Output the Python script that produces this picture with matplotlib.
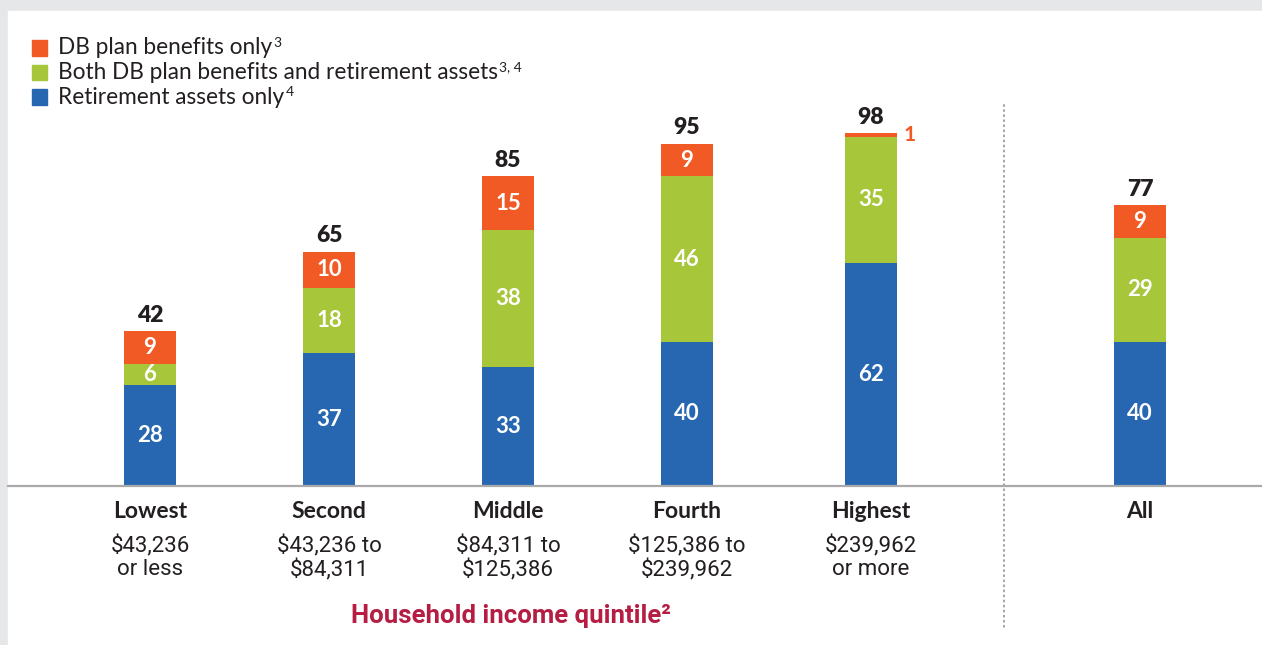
import matplotlib.pyplot as plt
from matplotlib.patches import Rectangle

categories = ["Lowest", "Second", "Middle", "Fourth", "Highest", "All"]
ranges = ["$43,236\nor less", "$43,236 to\n$84,311", "$84,311 to\n$125,386",
          "$125,386 to\n$239,962", "$239,962\nor more", ""]
retirement_only = [28, 37, 33, 40, 62, 40]
both = [6, 18, 38, 46, 35, 29]
db_only = [9, 10, 15, 9, 1, 9]
totals = [42, 65, 85, 95, 98, 77]

legend_labels = ["DB plan benefits only",
                 "Both DB plan benefits and retirement assets",
                 "Retirement assets only"]
legend_notes = ["3", "3, 4", "4"]

blue = "#2767b1"
green = "#a8c639"
orange = "#f15a24"
dark = "#231f20"
red = "#b51d43"

W, H = 1262, 645
base = 486      # baseline, pixels from top
ppu = 3.6       # pixels per percentage point


def py(p):
    # pixel row (from top) -> data y
    return (base - p) / ppu


fig = plt.figure(figsize=(W / 100, H / 100), dpi=100, facecolor="#e6e7e9")
ax = fig.add_axes([0, 0, 1, 1])
ax.set_xlim(0, W)
ax.set_ylim(py(H), py(0))
ax.axis("off")
ax.add_patch(Rectangle((8, py(H)), W - 8, py(11) - py(H), color="white", zorder=0))

xpos = [150, 329, 508, 687, 871, 1140]
bw = 52

ax.bar(xpos, retirement_only, bw, color=blue, zorder=2)
ax.bar(xpos, both, bw, bottom=retirement_only, color=green, zorder=2)
bottom3 = [a + b for a, b in zip(retirement_only, both)]
ax.bar(xpos, db_only, bw, bottom=bottom3, color=orange, zorder=2)

font = ["Lato", "DejaVu Sans"]
for i, x in enumerate(xpos):
    ax.text(x, retirement_only[i] / 2, str(retirement_only[i]), ha="center", va="center",
            color="white", fontsize=16, fontweight="bold", family=font, zorder=3)
    ax.text(x, retirement_only[i] + both[i] / 2, str(both[i]), ha="center", va="center",
            color="white", fontsize=16, fontweight="bold", family=font, zorder=3)
    if db_only[i] > 3:
        ax.text(x, bottom3[i] + db_only[i] / 2, str(db_only[i]), ha="center", va="center",
                color="white", fontsize=16, fontweight="bold", family=font, zorder=3)
    else:
        ax.annotate(str(db_only[i]), (x + bw / 2, bottom3[i] + db_only[i]), xytext=(5, -1.5),
                    textcoords="offset points", ha="left", va="center", color=orange,
                    fontsize=15, fontweight="bold", family=font)
    top = bottom3[i] + db_only[i]
    ax.annotate(str(totals[i]), (x, top), xytext=(0, 4), textcoords="offset points",
                ha="center", va="bottom", color=dark, fontsize=16.5, fontweight="heavy", family=font)
    ax.text(x, py(511), categories[i], ha="center", va="center", color=dark,
            fontsize=16.5, fontweight="bold", family=font)
    if ranges[i]:
        ax.text(x, py(558), ranges[i], ha="center", va="center", color=dark,
                fontsize=16, family="Roboto", linespacing=1.12)

# baseline and divider
ax.plot([8, W], [0, 0], color="#aaaaaa", lw=1.6, zorder=4)
ax.plot([1004, 1004], [py(105), py(630)], color="#999999", lw=1.3,
        linestyle=(0, (0.6, 2.2)), dash_capstyle="round", zorder=1)

ax.text((xpos[0] + xpos[4]) / 2, py(616), "Household income quintile²",
        ha="center", va="center", color=red, fontsize=18.5, fontweight="bold",
        family=["Roboto", "DejaVu Sans"])

# legend
legend_colors = [orange, green, blue]
for j, (lab, note, c) in enumerate(zip(legend_labels, legend_notes, legend_colors)):
    yc = 48 + j * 24.5
    ax.add_patch(Rectangle((32, py(yc + 7.5)), 15, 15 / ppu, color=c))
    t = ax.text(58, py(yc), lab, ha="left", va="center", color=dark, fontsize=16.3,
                family=font)
    ax.annotate(note, xy=(1, 0.45), xycoords=t, xytext=(1, 0), textcoords="offset points",
                ha="left", va="bottom", color=dark, fontsize=10, family=font)

fig.savefig("out.png", dpi=100, facecolor=fig.get_facecolor())
